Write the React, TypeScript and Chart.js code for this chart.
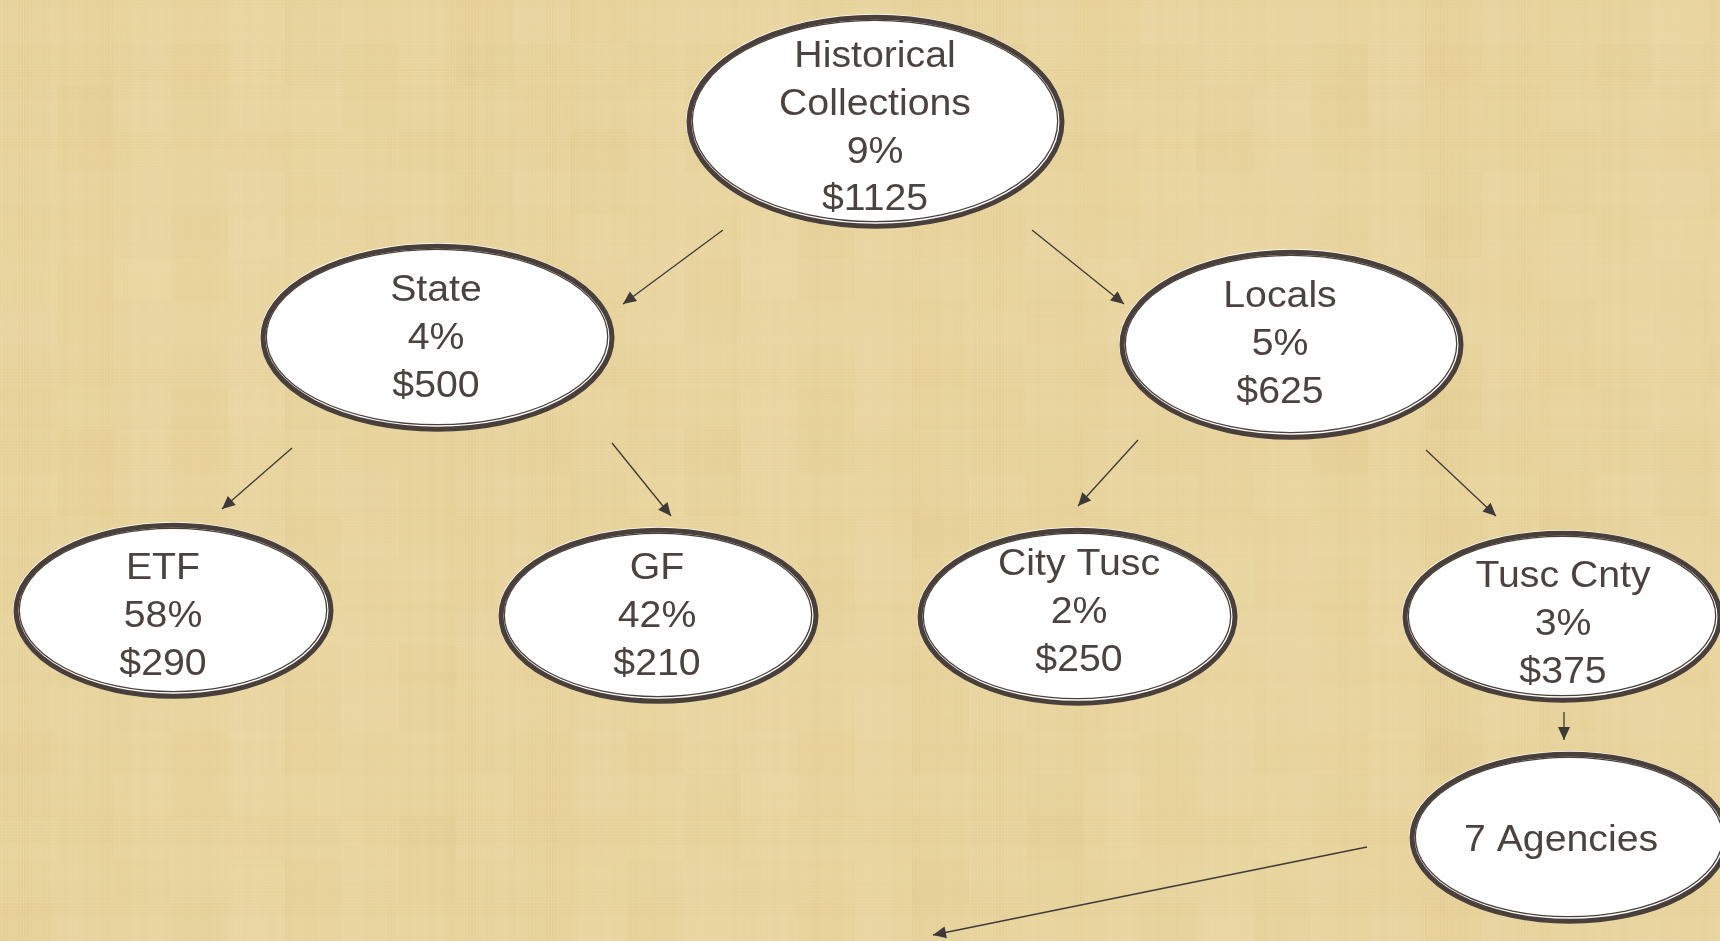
import React, { useEffect, useRef } from "react";
import { Chart, registerables } from "chart.js";
Chart.register(...registerables);

const W = 1720;
const H = 941;

// Node data
const nodeLabels: string[][] = [
  ["Historical", "Collections", "9%", "$1125"],
  ["State", "4%", "$500"],
  ["Locals", "5%", "$625"],
  ["ETF", "58%", "$290"],
  ["GF", "42%", "$210"],
  ["City Tusc", "2%", "$250"],
  ["Tusc Cnty", "3%", "$375"],
  ["7 Agencies"],
];
const nodeX = [875, 437, 1291, 173, 658, 1077, 1562, 1569];
const nodeY = [121, 337, 344, 610, 615, 616, 616, 837];
const nodeRx = [189, 177, 172, 160, 160, 160, 160, 160];
const nodeRy = [107, 94, 95, 88, 88, 89, 86, 86];
const textX = [875, 436, 1280, 163, 657, 1079, 1563, 1561];
const textY = [129, 339, 345, 617, 617, 613, 625, 841];

// Arrow data
const arrowFromX = [723, 1032, 292, 612, 1138, 1426, 1564, 1367];
const arrowFromY = [230, 230, 448, 443, 440, 450, 712, 847];
const arrowToX = [623, 1124, 222, 671, 1078, 1496, 1564, 933];
const arrowToY = [304, 304, 509, 516, 506, 516, 740, 935];

const DARK = "#4a403b";
const TEXT = "#4b433f";
const ARROW = "#3f3a38";

const bgPlugin = {
  id: "paperBg",
  beforeDraw(chart: any) {
    const ctx = chart.ctx as CanvasRenderingContext2D;
    const w = chart.width;
    const h = chart.height;
    ctx.save();
    ctx.fillStyle = "#e9d5a0";
    ctx.fillRect(0, 0, w, h);
    // blocky patches
    for (let bx = 0; bx < w; bx += 57) {
      for (let by = 0; by < h; by += 43) {
        const v = Math.sin(bx * 0.37 + by * 0.11) + Math.cos(bx * 0.05 - by * 0.29);
        const a = Math.min(0.08, Math.abs(v) * 0.035);
        ctx.fillStyle = v > 0 ? `rgba(250,238,200,${a})` : `rgba(215,180,100,${a})`;
        ctx.fillRect(bx, by, 57, 43);
      }
    }
    for (let x = 0; x < w; x += 3) {
      const v = Math.sin(x * 0.071) + Math.sin(x * 0.013 + 1.3) + 0.7 * Math.sin(x * 0.31 + 0.4);
      const a = Math.min(0.12, Math.abs(v) * 0.035);
      ctx.fillStyle = v > 0 ? `rgba(210,175,95,${a})` : `rgba(252,242,210,${a})`;
      ctx.fillRect(x, 0, 2, h);
    }
    for (let y = 0; y < h; y += 3) {
      const v = Math.sin(y * 0.083 + 2.1) + Math.sin(y * 0.017) + 0.7 * Math.sin(y * 0.27 + 1.1);
      const a = Math.min(0.09, Math.abs(v) * 0.028);
      ctx.fillStyle = v > 0 ? `rgba(210,175,95,${a})` : `rgba(252,242,210,${a})`;
      ctx.fillRect(0, y, w, 2);
    }
    ctx.restore();
  },
};

const nodePlugin = {
  id: "nodes",
  afterDatasetsDraw(chart: any) {
    const ctx = chart.ctx as CanvasRenderingContext2D;
    const xs = chart.scales.x;
    const ys = chart.scales.y;
    // arrowheads
    for (let i = 0; i < arrowFromX.length; i++) {
      const x0 = xs.getPixelForValue(arrowFromX[i]);
      const y0 = ys.getPixelForValue(arrowFromY[i]);
      const x1 = xs.getPixelForValue(arrowToX[i]);
      const y1 = ys.getPixelForValue(arrowToY[i]);
      const ang = Math.atan2(y1 - y0, x1 - x0);
      const len = 13;
      const hw = 6;
      ctx.save();
      ctx.translate(x1, y1);
      ctx.rotate(ang);
      ctx.beginPath();
      ctx.moveTo(0, 0);
      ctx.lineTo(-len, -hw);
      ctx.lineTo(-len, hw);
      ctx.closePath();
      ctx.fillStyle = ARROW;
      ctx.fill();
      ctx.restore();
    }
    // ellipses
    const meta = chart.getDatasetMeta(0);
    meta.data.forEach((el: any, i: number) => {
      const cx = el.x;
      const cy = el.y;
      const rx = Math.abs(xs.getPixelForValue(nodeX[i] + nodeRx[i]) - cx);
      const ry = Math.abs(ys.getPixelForValue(nodeY[i] + nodeRy[i]) - cy);
      ctx.save();
      ctx.beginPath();
      ctx.ellipse(cx, cy, rx, ry, 0, 0, Math.PI * 2);
      ctx.fillStyle = "#ffffff";
      ctx.fill();
      ctx.beginPath();
      ctx.ellipse(cx + 0.5, cy + 0.7, rx - 2.5, ry - 2.5, 0, 0, Math.PI * 2);
      ctx.lineWidth = 5;
      ctx.strokeStyle = DARK;
      ctx.stroke();
      ctx.beginPath();
      ctx.ellipse(cx, cy, rx - 6.3, ry - 6.3, 0, 0, Math.PI * 2);
      ctx.lineWidth = 1.3;
      ctx.strokeStyle = DARK;
      ctx.stroke();
      // text
      const lines = nodeLabels[i];
      const lh = 47.7;
      const tx = xs.getPixelForValue(textX[i]);
      const ty = ys.getPixelForValue(textY[i]);
      ctx.fillStyle = TEXT;
      ctx.font = '36px "Liberation Sans", Arial, sans-serif';
      ctx.textAlign = "center";
      ctx.textBaseline = "middle";
      lines.forEach((ln, k) => {
        const off = (k - (lines.length - 1) / 2) * lh;
        ctx.save();
        ctx.translate(tx, ty + off);
        ctx.scale(1.09, 1);
        ctx.fillText(ln, 0, 0);
        ctx.restore();
      });
      ctx.restore();
    });
  },
};

export default function App() {
  const ref = useRef<HTMLCanvasElement>(null);
  useEffect(() => {
    document.body.style.margin = "0";
    const nodeData = nodeX.map((x, i) => ({ x, y: nodeY[i] }));
    const arrowSets = arrowFromX.map((x, i) => ({
      type: "scatter" as const,
      data: [
        { x, y: arrowFromY[i] },
        { x: arrowToX[i], y: arrowToY[i] },
      ],
      showLine: true,
      borderColor: ARROW,
      borderWidth: 1.3,
      pointRadius: 0,
      pointHoverRadius: 0,
    }));
    const chart = new Chart(ref.current!, {
      type: "scatter",
      data: {
        datasets: [
          {
            data: nodeData,
            pointRadius: 0,
            pointHoverRadius: 0,
            showLine: false,
          } as any,
          ...arrowSets,
        ],
      },
      options: {
        animation: false,
        responsive: false,
        events: [],
        layout: { padding: 0 },
        plugins: { legend: { display: false }, tooltip: { enabled: false } },
        scales: {
          x: { type: "linear", min: 0, max: W, display: false },
          y: { type: "linear", min: 0, max: H, reverse: true, display: false },
        },
      },
      plugins: [bgPlugin, nodePlugin],
    });
    return () => chart.destroy();
  }, []);
  return (
    <div style={{ position: "fixed", left: 0, top: 0, width: W, height: H }}>
      <canvas ref={ref} width={W} height={H} style={{ width: W, height: H, display: "block" }} />
    </div>
  );
}
